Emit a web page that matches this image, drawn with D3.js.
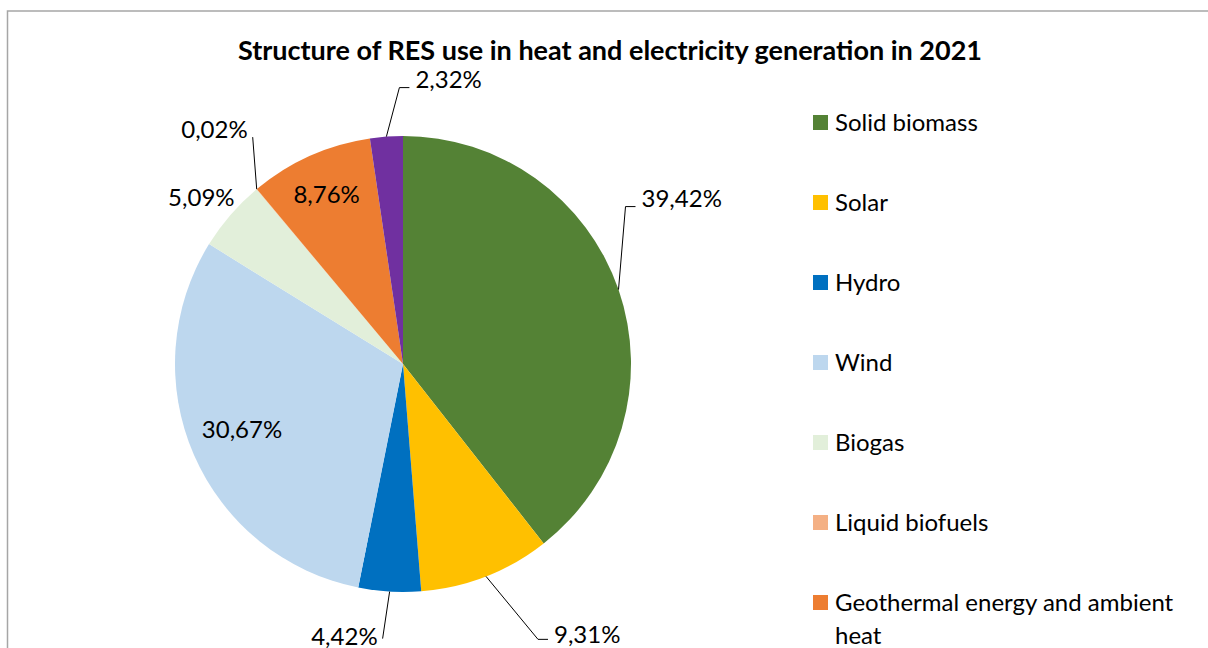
<!DOCTYPE html>
<html>
<head>
<meta charset="utf-8">
<script src="https://cdn.jsdelivr.net/npm/d3@7"></script>
<style>
  body { margin: 0; background: #fff; }
  svg text { font-family: Lato, "Noto Sans", sans-serif; fill: #000; }
</style>
</head>
<body>
<div id="chart"></div>
<script>
const categories = ["Solid biomass", "Solar", "Hydro", "Wind", "Biogas", "Liquid biofuels",
  "Geothermal energy and ambient heat", "Other"]
const shares = [39.42, 9.31, 4.42, 30.67, 5.09, 0.02, 8.76, 2.32]
const shareLabels = ["39,42%", "9,31%", "4,42%", "30,67%", "5,09%", "0,02%", "8,76%", "2,32%"]
const colors = ["#548235", "#FFC000", "#0070C0", "#BDD7EE", "#E2EFDA", "#F4B084", "#ED7D31", "#7030A0"]

const svgWidth = 1208
const svgHeight = 648
const cx = 403
const cy = 364
const radius = 228

// label placement per slice: inside at a fraction of radius, or outside with an elbow leader
const labelPlacement = [
  {type: "leader", ex: 7, ey: -83, side: 1, ty: 0},
  {type: "leader", ex: 52, ey: 63, side: 1, ty: 4},
  {type: "leader", ex: -7, ey: 47, side: -1, noTail: true, ty: 6},
  {type: "inside", r: 0.77, ty: -4},
  {type: "free", r: 1.17, ty: 8},
  {type: "leader", ex: -4, ey: -52, side: -1, noTail: true, ty: 1},
  {type: "inside", r: 0.82, ty: 1},
  {type: "leader", ex: 13, ey: -49, side: 1, ty: 0}
]

let svg = d3.select("#chart")
  .append("svg")
  .attr("width", svgWidth)
  .attr("height", svgHeight)

svg.append("rect")
  .attr("x", 7.5)
  .attr("y", 11)
  .attr("width", 1300)
  .attr("height", 800)
  .attr("fill", "none")
  .attr("stroke", "#A6A6A6")
  .attr("stroke-width", 1.5)

svg.append("text")
  .attr("x", 610)
  .attr("y", 60)
  .attr("text-anchor", "middle")
  .style("font-size", "27px")
  .style("font-weight", "bold")
  .text("Structure of RES use in heat and electricity generation in 2021")

let data = categories.map((c, i) => ({name: c, value: shares[i], label: shareLabels[i], color: colors[i]}))

let pie = d3.pie().sort(null).value(d => d.value)
let arcs = pie(data)
let arc = d3.arc().innerRadius(0).outerRadius(radius)

let pieGroup = svg.append("g").attr("transform", `translate(${cx}, ${cy})`)

pieGroup.selectAll("path")
  .data(arcs)
  .enter()
  .append("path")
  .attr("d", arc)
  .attr("fill", d => d.data.color)

arcs.forEach((a, i) => {
  let p = labelPlacement[i]
  let mid = (a.startAngle + a.endAngle) / 2
  let sx = Math.sin(mid), sy = -Math.cos(mid)
  if (p.type === "inside" || p.type === "free") {
    pieGroup.append("text")
      .attr("x", sx * radius * p.r)
      .attr("y", sy * radius * p.r + p.ty)
      .attr("dy", "0.35em")
      .attr("text-anchor", "middle")
      .style("font-size", "24px")
      .text(a.data.label)
  } else {
    let x0 = sx * radius, y0 = sy * radius
    let x1 = x0 + p.ex, y1 = y0 + p.ey
    let x2 = p.noTail ? x1 : x1 + 10 * p.side
    pieGroup.append("polyline")
      .attr("points", `${x0},${y0} ${x1},${y1} ${x2},${y1}`)
      .attr("fill", "none")
      .attr("stroke", "#000")
      .attr("stroke-width", 1)
    pieGroup.append("text")
      .attr("x", x2 + (p.noTail ? 5 : 6) * p.side)
      .attr("y", y1 + p.ty)
      .attr("text-anchor", p.side > 0 ? "start" : "end")
      .style("font-size", "24px")
      .text(a.data.label)
  }
})

let legend = svg.append("g").attr("transform", "translate(813, 123)")
let rows = legend.selectAll("g")
  .data(data)
  .enter()
  .append("g")
  .attr("transform", (d, i) => `translate(0, ${i * 80})`)
rows.append("rect")
  .attr("x", 0)
  .attr("y", -8)
  .attr("width", 15)
  .attr("height", 15)
  .attr("fill", d => d.color)
rows.append("text")
  .attr("x", 22)
  .attr("y", 0)
  .attr("dy", "0.35em")
  .style("font-size", "24px")
  .each(function(d) {
    let t = d3.select(this)
    if (d.name.length > 30) {
      t.append("tspan").attr("x", 22).text("Geothermal energy and ambient")
      t.append("tspan").attr("x", 22).attr("dy", "1.35em").text("heat")
    } else {
      t.text(d.name)
    }
  })
</script>
</body>
</html>
